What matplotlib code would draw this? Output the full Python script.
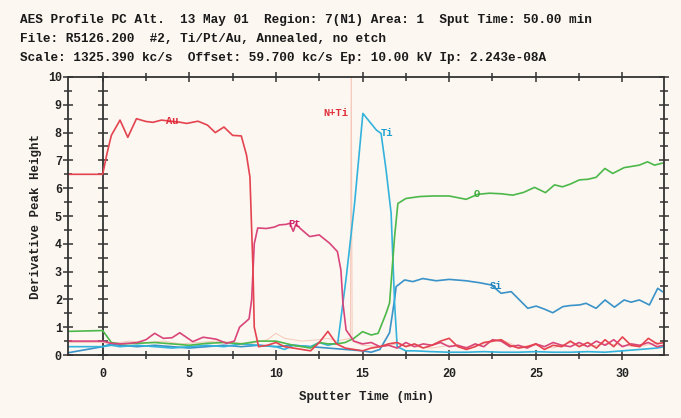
import matplotlib
matplotlib.use("Agg")
import matplotlib.pyplot as plt
from matplotlib.ticker import MultipleLocator, NullFormatter

MONO = ["Liberation Mono", "DejaVu Sans Mono"]
BG = "#fcf7f1"

HEADER = [
    "AES Profile PC Alt.  13 May 01  Region: 7(N1) Area: 1  Sput Time: 50.00 min",
    "File: R5126.200  #2, Ti/Pt/Au, Annealed, no etch",
    "Scale: 1325.390 kc/s  Offset: 59.700 kc/s Ep: 10.00 kV Ip: 2.243e-08A",
]

# --- data (time in min, derivative peak height) ---
au_t = [-2, 0, 0.25, 0.5, 1.0, 1.45, 1.95, 2.5, 2.9, 3.4, 3.9, 4.4, 4.85, 5.5, 6.05, 6.5,
        7.0, 7.5, 8.0, 8.3, 8.5, 8.68, 8.75, 9.0, 9.5, 10.0, 10.5, 11.0, 11.5, 12.0, 12.5,
        13.0, 13.5, 14.0, 14.5, 15.0, 15.5, 16.0, 16.5, 17.0, 17.5, 18.0, 18.5, 19.0, 19.5,
        20.0, 20.5, 21.0, 21.5, 22.0, 22.5, 23.0, 23.5, 24.0, 24.5, 25.0, 25.5, 26.0, 26.5,
        27.0, 27.5, 28.0, 28.5, 29.0, 29.5, 30.0, 30.5, 31.0, 31.5, 32.0, 32.4]
au_v = [6.5, 6.5, 7.25, 7.9, 8.45, 7.83, 8.5, 8.4, 8.37, 8.45, 8.41, 8.38, 8.33, 8.41, 8.27, 8.0,
        8.2, 7.9, 7.88, 7.2, 6.4, 3.0, 1.0, 0.3, 0.35, 0.45, 0.3, 0.25, 0.2, 0.15, 0.45,
        0.85, 0.4, 0.25, 0.2, 0.15, 0.25, 0.3, 0.4, 0.45, 0.3, 0.4, 0.25, 0.35, 0.5,
        0.6, 0.3, 0.2, 0.3, 0.45, 0.5, 0.55, 0.35, 0.25, 0.3, 0.4, 0.2, 0.35, 0.3,
        0.5, 0.3, 0.45, 0.25, 0.55, 0.3, 0.65, 0.35, 0.3, 0.6, 0.4, 0.45]

pt_t = [-2, 0, 0.5, 1.0, 1.5, 2.0, 2.5, 3.0, 3.5, 4.0, 4.45, 5.2, 5.8, 6.55, 7.15, 7.6,
        7.9, 8.45, 8.6, 8.75, 8.95, 9.45, 9.9, 10.2, 10.6, 10.8, 11.0, 11.15, 11.5, 11.95,
        12.5, 13.1, 13.55, 13.75, 13.87, 14.05, 14.5, 15.0, 15.5, 16.0, 16.5, 17.0, 17.5,
        18.0, 18.5, 19.0, 19.5, 20.0, 20.5, 21.0, 21.5, 22.0, 22.5, 23.0, 23.5, 24.0, 24.5,
        25.0, 25.5, 26.0, 26.5, 27.0, 27.5, 28.0, 28.5, 29.0, 29.5, 30.0, 30.5, 31.0, 31.5,
        32.0, 32.4]
pt_v = [0.5, 0.5, 0.42, 0.4, 0.42, 0.45, 0.55, 0.78, 0.6, 0.62, 0.8, 0.48, 0.64, 0.57, 0.42, 0.5,
        1.0, 1.3, 2.0, 4.0, 4.57, 4.55, 4.6, 4.68, 4.7, 4.74, 4.45, 4.7, 4.5, 4.26,
        4.32, 4.02, 3.72, 3.06, 1.86, 0.9, 0.5, 0.4, 0.45, 0.3, 0.35, 0.25, 0.45,
        0.3, 0.4, 0.35, 0.45, 0.3, 0.35, 0.25, 0.4, 0.3, 0.55, 0.5, 0.3, 0.35, 0.25,
        0.4, 0.3, 0.45, 0.35, 0.3, 0.45, 0.3, 0.5, 0.35, 0.55, 0.3, 0.4, 0.35, 0.45,
        0.3, 0.35]

nti_t = [-2, 0, 0.5, 1.5, 2.5, 3.5, 4.5, 5.5, 6.5, 7.5, 8.5, 9.5, 10.0, 10.5, 11.5, 12.5,
         13.0, 13.5, 14.3, 14.35, 14.4, 15.0, 16.0, 17.0, 18.0, 19.0, 20.0, 21.0, 22.0,
         23.0, 24.0, 25.0, 26.0, 27.0, 28.0, 29.0, 30.0, 31.0, 32.0, 32.4]
nti_v = [0.45, 0.45, 0.4, 0.5, 0.45, 0.5, 0.4, 0.45, 0.5, 0.45, 0.4, 0.55, 0.78, 0.6, 0.5, 0.55,
         0.6, 0.5, 0.6, 11.0, 0.5, 0.35, 0.3, 0.4, 0.3, 0.25, 0.35, 0.3, 0.4,
         0.55, 0.3, 0.35, 0.25, 0.45, 0.3, 0.4, 0.35, 0.3, 0.45, 0.4]

ti_t = [-2, 0, 0.5, 1.0, 2.0, 3.0, 4.0, 5.0, 6.0, 7.0, 8.0, 9.0, 10.0, 10.5, 11.0, 12.0,
        12.5, 13.0, 13.57, 14.06, 14.54, 15.02, 15.8, 16.07, 16.36, 16.65, 16.85, 17.0,
        17.5, 18.0, 19.0, 20.0, 21.0, 22.0, 23.0, 24.0, 25.0, 26.0, 27.0, 28.0, 29.0,
        30.0, 31.0, 32.0, 32.4]
ti_v = [0.3, 0.3, 0.35, 0.3, 0.35, 0.3, 0.25, 0.3, 0.35, 0.3, 0.4, 0.35, 0.3, 0.2, 0.35, 0.3,
        0.45, 0.35, 0.43, 2.8, 5.45, 8.69, 8.09, 7.97, 6.65, 5.1, 1.86, 0.3,
        0.15, 0.15, 0.12, 0.1, 0.1, 0.12, 0.1, 0.1, 0.12, 0.1, 0.1, 0.12, 0.1,
        0.15, 0.2, 0.25, 0.3]

o_t = [-2, 0, 0.5, 1.0, 2.0, 3.0, 4.0, 5.0, 6.0, 7.0, 8.0, 9.0, 10.0, 11.0, 12.0, 12.5,
       13.0, 13.5, 14.0, 14.5, 15.0, 15.5, 15.9, 16.36, 16.56, 16.85, 17.04, 17.5, 18.3,
       19.05, 20.0, 20.98, 21.65, 22.33, 23.0, 23.67, 24.3, 24.93, 25.56, 26.08, 26.54,
       27.0, 27.52, 28.0, 28.48, 28.99, 29.44, 30.1, 30.5, 30.98, 31.45, 31.85, 32.3]
o_v = [0.85, 0.88, 0.45, 0.4, 0.42, 0.45, 0.4, 0.35, 0.42, 0.45, 0.4, 0.5, 0.5, 0.35, 0.25, 0.45,
       0.4, 0.4, 0.45, 0.6, 0.84, 0.72, 0.78, 1.5, 1.87, 4.26, 5.45, 5.63, 5.7,
       5.72, 5.72, 5.6, 5.78, 5.82, 5.8, 5.75, 5.85, 6.03, 5.84, 6.12, 6.05,
       6.15, 6.3, 6.32, 6.39, 6.71, 6.53, 6.74, 6.78, 6.83, 6.95, 6.83, 6.9]

si_t = [-2, 0, 0.5, 1.0, 2.0, 3.0, 4.0, 5.0, 6.0, 7.0, 8.0, 9.0, 10.0, 11.0, 12.0, 13.0,
        14.0, 15.0, 15.5, 16.0, 16.56, 16.85, 16.94, 17.43, 17.9, 18.48, 19.25, 20.0,
        20.98, 21.75, 22.42, 23.0, 23.58, 24.06, 24.54, 25.02, 25.5, 25.98, 26.56, 27.0,
        27.52, 27.9, 28.48, 29.0, 29.54, 30.1, 30.5, 30.98, 31.56, 32.04, 32.3]
si_v = [0.08, 0.3, 0.4, 0.35, 0.3, 0.35, 0.3, 0.25, 0.3, 0.35, 0.3, 0.35, 0.3, 0.35, 0.3, 0.25,
        0.2, 0.15, 0.1, 0.2, 0.8, 2.0, 2.46, 2.7, 2.64, 2.75, 2.67, 2.72,
        2.67, 2.6, 2.52, 2.22, 2.28, 1.98, 1.68, 1.76, 1.65, 1.52, 1.74, 1.78,
        1.8, 1.86, 1.68, 1.98, 1.72, 1.98, 1.9, 1.98, 1.8, 2.4, 2.28]

SERIES = [
    ("N+Ti", nti_t, nti_v, "#f5c8ba", 0.7),
    ("Si", si_t, si_v, "#3a93c8", 1.2),
    ("Ti", ti_t, ti_v, "#33b3dc", 1.2),
    ("O", o_t, o_v, "#4db84a", 1.2),
    ("Pt", pt_t, pt_v, "#d9457a", 1.2),
    ("Au", au_t, au_v, "#e4434f", 1.2),
]

# label anchor (t, v) for each curve
LABELS = {
    "Au": (4.0, 8.4, "#e02838"),
    "Pt": (11.1, 4.72, "#d0206a"),
    "N+Ti": (14.2, 8.7, "#e0303a"),
    "Ti": (16.4, 8.0, "#1aa0d0"),
    "O": (21.6, 5.78, "#3aa83a"),
    "Si": (22.7, 2.48, "#1f84c0"),
}

XLIM = (-2, 32.4)
YLIM = (0, 10)

fig = plt.figure(figsize=(6.81, 4.18), dpi=100, facecolor=BG)
ax = fig.add_axes([0.0999, 0.1507, 0.8751, 0.6651], facecolor=BG)

for name, t, v, col, lw in SERIES:
    ax.plot(t, v, color=col, lw=lw, clip_on=True)

for name, (t, v, col) in LABELS.items():
    ha = "right" if name == "N+Ti" else "center"
    ax.text(t, v, name, color=col, fontsize=7.5, fontweight="bold", family=MONO,
            ha=ha, va="center")

ax.set_xlim(*XLIM)
ax.set_ylim(*YLIM)

for s in ax.spines.values():
    s.set_color("#333333")
    s.set_linewidth(1.3)

ax.xaxis.set_major_locator(MultipleLocator(5))
ax.xaxis.set_minor_locator(MultipleLocator(2.5))
ax.yaxis.set_major_locator(MultipleLocator(1))
ax.yaxis.set_minor_locator(MultipleLocator(0.5))
ax.tick_params(which="both", direction="inout", top=True, right=True, color="#333333",
               width=1.1)
ax.tick_params(which="major", length=7)
ax.tick_params(which="minor", length=6)
ax.tick_params(axis="x", which="major", pad=6)
ax.tick_params(axis="y", which="major", pad=1)

for lab in ax.get_xticklabels() + ax.get_yticklabels():
    lab.set_family(MONO)
    lab.set_fontweight("bold")
    lab.set_fontsize(8.5)
    lab.set_color("#222222")

# vertical line at t = 0 carrying its own tick marks
loc0 = (0 - XLIM[0]) / (XLIM[1] - XLIM[0])
sec = ax.secondary_yaxis(loc0)
sec.spines["left"].set_color("#333333")
sec.spines["left"].set_linewidth(1.3)
sec.yaxis.set_major_locator(MultipleLocator(0.5))
sec.yaxis.set_major_formatter(NullFormatter())
sec.tick_params(direction="inout", length=7, width=1.1, color="#333333")

ax.set_xlabel("Sputter Time (min)", family=MONO, fontweight="bold", fontsize=9,
              labelpad=8, color="#222222")
ax.set_ylabel("Derivative Peak Height", family=MONO, fontweight="bold", fontsize=9,
              labelpad=4, color="#222222")

for i, line in enumerate(HEADER):
    fig.text(20 / 681, 1 - (20 + 19 * i) / 418, line, family=MONO, fontweight="bold",
             fontsize=9.2, va="center", ha="left", color="#1a1a1a")

fig.savefig("out.png", dpi=100, facecolor=BG)
